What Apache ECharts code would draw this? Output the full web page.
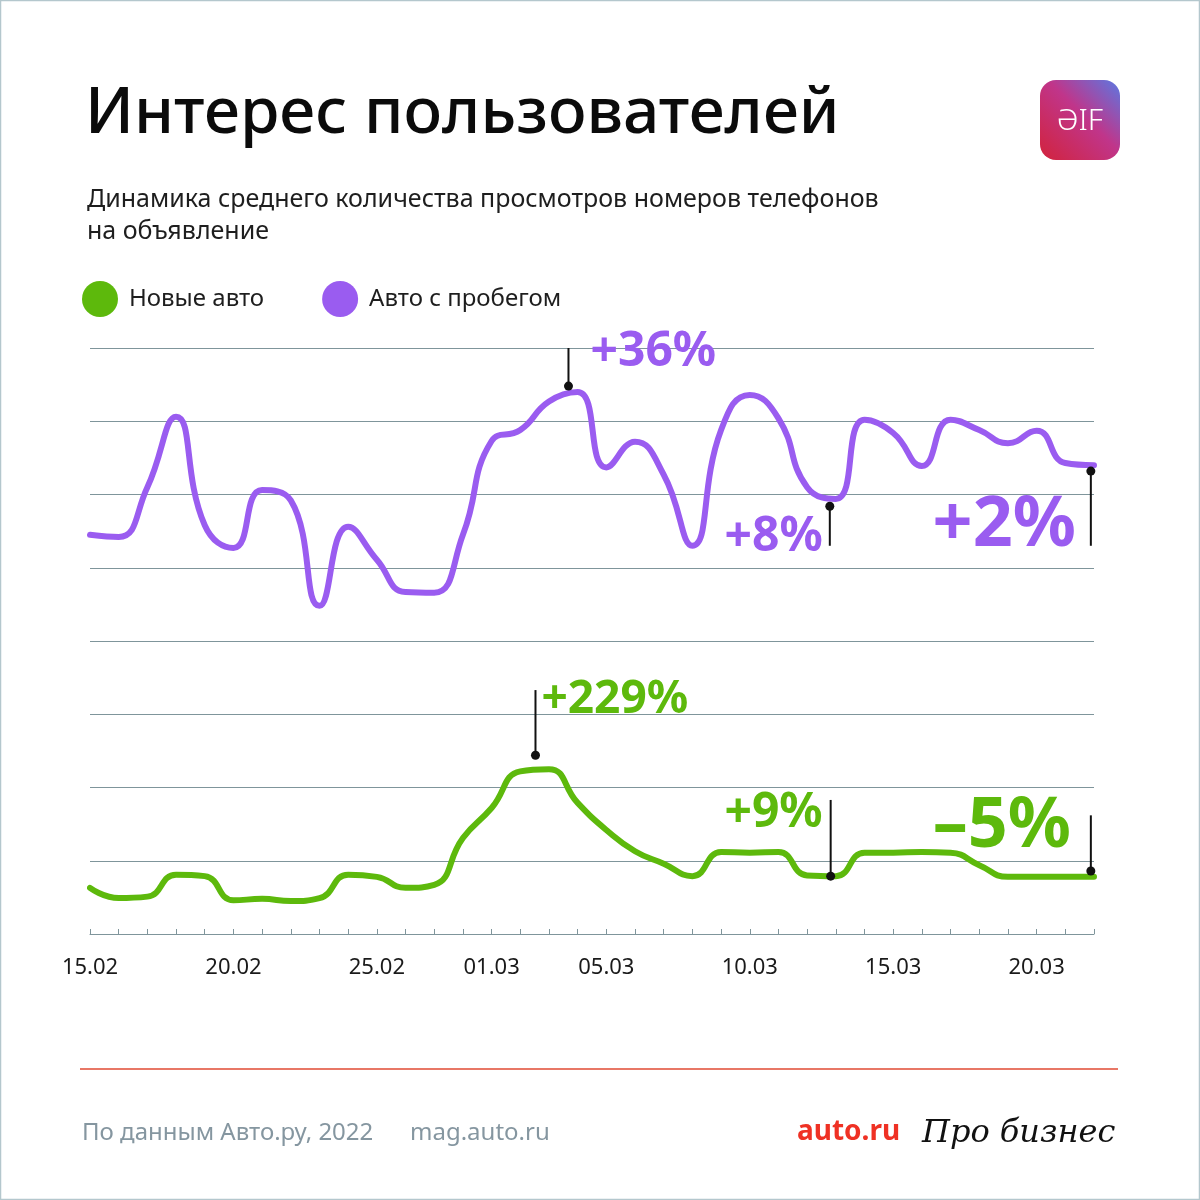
<!DOCTYPE html>
<html>
<head>
<meta charset="utf-8">
<script src="https://cdn.jsdelivr.net/npm/echarts@6/dist/echarts.min.js"></script>
<style>
html,body{margin:0;padding:0;background:#fff}
#chart{width:1200px;height:1200px}
</style>
</head>
<body>
<div id="chart"></div>
<script>
// даты по дням, 15.02 - 22.03
var days = ['15.02','16.02','17.02','18.02','19.02','20.02','21.02','22.02','23.02','24.02','25.02','26.02','27.02','28.02',
    '01.03','02.03','03.03','04.03','05.03','06.03','07.03','08.03','09.03','10.03','11.03','12.03','13.03','14.03',
    '15.03','16.03','17.03','18.03','19.03','20.03','21.03','22.03'];
var tickLabels = ['15.02','20.02','25.02','01.03','05.03','10.03','15.03','20.03'];

// значения в делениях сетки (ось без подписей)
var usedCars = [5.45,5.42,6.10,7.06,5.58,5.27,6.06,5.92,4.48,5.56,5.11,4.67,4.66,5.45,
    6.73,6.88,7.27,7.40,6.37,6.72,6.27,5.30,6.88,7.36,7.04,6.10,5.94,7.02,6.84,6.39,7.02,6.88,6.70,6.87,6.43,6.40];
var newCars = [0.63,0.49,0.51,0.81,0.79,0.46,0.48,0.45,0.49,0.81,0.78,0.63,0.67,1.31,
    1.72,2.22,2.25,1.79,1.42,1.13,0.96,0.79,1.12,1.11,1.12,0.80,0.79,1.11,1.11,1.12,1.11,0.94,0.78,0.78,0.78,0.78];

// подписи-выноски
var noteLabels = ['+36%','+8%','+2%','+229%','+9%','–5%'];
var noteDays = [16.68, 25.79, 34.89, 15.53, 25.82, 34.89];
var noteValues = [7.48, 5.84, 6.32, 2.44, 0.79, 0.86];
var noteEnds = [8.0, 5.30, 5.30, 3.33, 1.83, 1.62];

var violet = '#9a5cf0';
var green = '#5db90c';
var gridColor = '#7f959b';
var font = '"Noto Sans", sans-serif';

var noteStyles = [
    {color: violet, size: 48, align: 'left', dx: 22, dy: 4},
    {color: violet, size: 48, align: 'right', dx: -7, dy: -8},
    {color: violet, size: 70, align: 'right', dx: -15, dy: -20},
    {color: green, size: 46, align: 'left', dx: 6, dy: 10},
    {color: green, size: 48, align: 'right', dx: -8, dy: 13},
    {color: green, size: 70, align: 'right', dx: -20, dy: 12}
];

var chart = echarts.init(document.getElementById('chart'));

var option = {
    backgroundColor: '#fff',
    textStyle: {fontFamily: font},
    title: [{
        text: 'Интерес пользователей',
        left: 80,
        top: 78,
        textStyle: {fontSize: 64, fontWeight: 500, color: '#0b0b0b', fontFamily: font}
    }, {
        text: 'Динамика среднего количества просмотров номеров телефонов\nна объявление',
        left: 82,
        top: 179,
        textStyle: {fontSize: 25, fontWeight: 'normal', color: '#1e1e1e', lineHeight: 32, fontFamily: font}
    }],
    legend: {
        data: ['Новые авто', 'Авто с пробегом'],
        left: 82,
        top: 281,
        padding: 0,
        icon: 'circle',
        itemWidth: 36,
        itemHeight: 36,
        itemGap: 58,
        textStyle: {fontSize: 24, color: '#1e1e1e', padding: [0, 0, 0, 6]}
    },
    grid: {left: 90, right: 106, top: 348, bottom: 266},
    xAxis: {
        type: 'value',
        min: 0,
        max: days.length - 1,
        interval: 1,
        axisLine: {lineStyle: {color: gridColor, width: 1}},
        axisTick: {inside: true, length: 5, lineStyle: {color: gridColor}},
        axisLabel: {
            margin: 23,
            fontSize: 22,
            color: '#1a1a1a',
            formatter: function (v) {
                var d = days[v];
                return tickLabels.indexOf(d) >= 0 ? d : '';
            }
        },
        splitLine: {show: false}
    },
    yAxis: {
        type: 'value',
        min: 0,
        max: 8,
        interval: 1,
        axisLine: {show: false},
        axisTick: {show: false},
        axisLabel: {show: false},
        splitLine: {lineStyle: {color: gridColor, width: 1}}
    },
    series: [{
        name: 'Авто с пробегом',
        type: 'line',
        smooth: 0.5,
        symbol: 'none',
        color: violet,
        lineStyle: {width: 6, color: violet, cap: 'round'},
        data: usedCars.map(function (v, i) { return [i, v]; })
    }, {
        name: 'Новые авто',
        type: 'line',
        smooth: 0.5,
        symbol: 'none',
        color: green,
        lineStyle: {width: 6, color: green, cap: 'round'},
        data: newCars.map(function (v, i) { return [i, v]; })
    }, {
        type: 'custom',
        clip: false,
        z: 10,
        silent: true,
        renderItem: function (params, api) {
            var i = api.value(3);
            var st = noteStyles[i];
            var dot = api.coord([api.value(0), api.value(1)]);
            var end = api.coord([api.value(0), api.value(2)]);
            return {
                type: 'group',
                children: [{
                    type: 'line',
                    shape: {x1: dot[0], y1: dot[1], x2: end[0], y2: end[1]},
                    style: {stroke: '#111', lineWidth: 2}
                }, {
                    type: 'circle',
                    shape: {cx: dot[0], cy: dot[1], r: 4.5},
                    style: {fill: '#111'}
                }, {
                    type: 'text',
                    x: end[0] + st.dx,
                    y: end[1] + st.dy,
                    style: {
                        text: noteLabels[i],
                        fill: st.color,
                        fontSize: st.size,
                        fontWeight: 'bold',
                        fontFamily: font,
                        align: st.align,
                        verticalAlign: 'middle'
                    }
                }]
            };
        },
        data: noteLabels.map(function (t, i) { return [noteDays[i], noteValues[i], noteEnds[i], i]; })
    }],
    graphic: [{
        type: 'rect',
        shape: {x: 0.5, y: 0.5, width: 1199, height: 1199},
        style: {fill: 'none', stroke: '#b4c7cd', lineWidth: 1.5}
    }, {
        // логотип АиФ
        type: 'rect',
        shape: {x: 1040, y: 80, width: 80, height: 80, r: 16},
        style: {
            fill: new echarts.graphic.LinearGradient(0, 1, 1, 0, [
                {offset: 0, color: '#d2233c'},
                {offset: 0.55, color: '#c0358a'},
                {offset: 1, color: '#5b78e2'}
            ])
        }
    }, {
        type: 'text',
        x: 1080, y: 121,
        style: {text: 'ƏIF', fill: '#fff', fontSize: 30, fontWeight: 300, fontFamily: font, align: 'center', verticalAlign: 'middle'}
    }, {
        type: 'line',
        shape: {x1: 80, y1: 1069, x2: 1118, y2: 1069},
        style: {stroke: '#e04a33', lineWidth: 1.5}
    }, {
        type: 'text',
        x: 82, y: 1133,
        style: {text: 'По данным Авто.ру, 2022', fill: '#8596a0', fontSize: 24, fontFamily: font, verticalAlign: 'middle'}
    }, {
        type: 'text',
        x: 410, y: 1133,
        style: {text: 'mag.auto.ru', fill: '#8596a0', fontSize: 24, fontFamily: font, verticalAlign: 'middle'}
    }, {
        type: 'text',
        x: 797, y: 1132,
        style: {text: 'auto.ru', fill: '#ef3124', fontSize: 28, fontWeight: 'bold', fontFamily: font, verticalAlign: 'middle'}
    }, {
        type: 'text',
        x: 922, y: 1134,
        style: {text: 'Про бизнес', fill: '#111', fontSize: 32, fontStyle: 'italic', fontFamily: '"DejaVu Serif", serif', verticalAlign: 'middle'}
    }]
};

chart.setOption(option);
</script>
</body>
</html>
